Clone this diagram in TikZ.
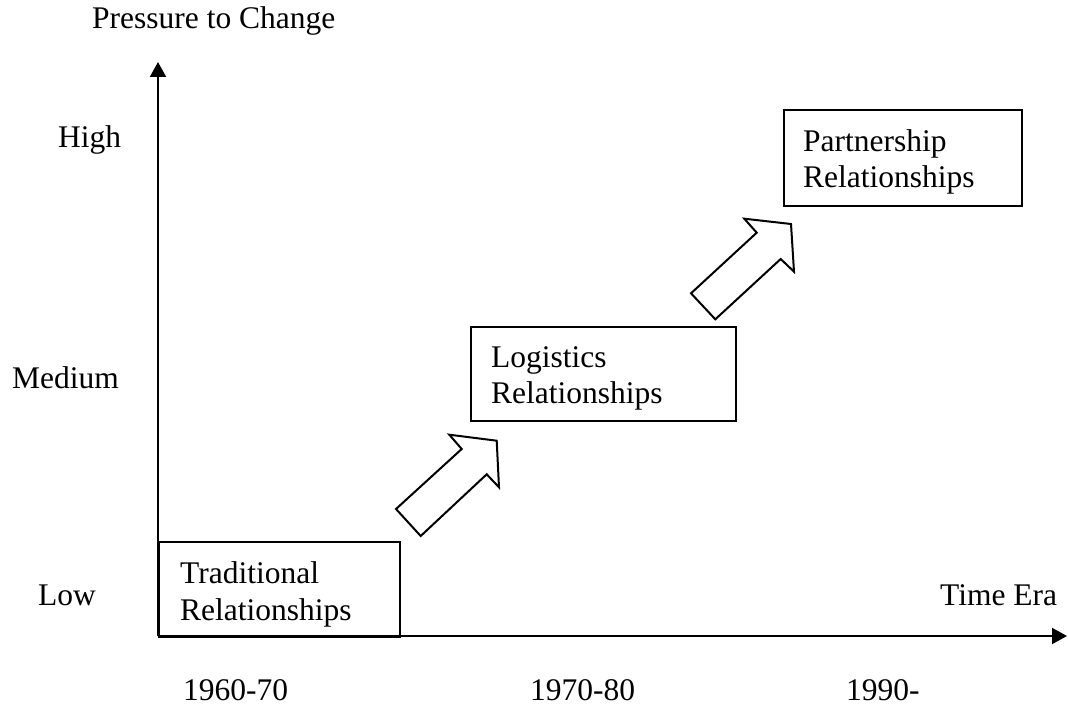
\documentclass[tikz,border=0pt]{standalone}
\usepackage{fontspec}
\setmainfont{Liberation Serif}
\usetikzlibrary{arrows.meta}
\begin{document}
\begin{tikzpicture}[x=1pt,y=-1pt,
  lbl/.style={inner sep=0pt,anchor=base west,font=\fontsize{31.5}{36.5}\selectfont},
  axis/.style={line width=2pt,-{Triangle[length=15pt,width=16pt]}},
  era/.style={draw,line width=2pt,inner sep=0pt,anchor=north west},
  blockarrow/.style={draw,line width=2pt,line join=miter,fill=white}]
\useasboundingbox (0,0) rectangle (1068,706);

% axes
\coordinate (origin) at (158,636);
\coordinate (ytop) at (158,62);
\coordinate (xend) at (1067,636);
\draw[axis] (origin) -- (ytop);
\draw[axis] (origin) -- (xend);

% axis titles and scale labels
\node[lbl] (ytitle) at (92,29) {Pressure to Change};
\node[lbl] (xtitle) at (940,605) {Time Era};
\node[lbl] (high) at (58,148) {High};
\node[lbl] (medium) at (12,388) {Medium};
\node[lbl] (low) at (38,605) {Low};
\node[lbl] (y1) at (183,700) {1960-70};
\node[lbl] (y2) at (530,700) {1970-80};
\node[lbl] (y3) at (846,700) {1990-};

% relationship stages
\node[era,minimum width=241pt,minimum height=95pt] (trad) at (158,541) {};
\node[lbl] (tradA) at (180,583) {Traditional};
\node[lbl] (tradB) at (180,620) {Relationships};

\node[era,minimum width=265pt,minimum height=94pt] (logi) at (470,326) {};
\node[lbl] (logiA) at (491,367) {Logistics};
\node[lbl] (logiB) at (491,403) {Relationships};

\node[era,minimum width=238pt,minimum height=96pt] (part) at (783,109) {};
\node[lbl] (partA) at (803,151) {Partnership};
\node[lbl] (partB) at (803,187) {Relationships};

% block arrows between stages
\draw[blockarrow] (396,509) -- (420.7,536) -- (486.7,474.3) -- (499,487.3)
  -- (496.7,440.7) -- (449.3,434.7) -- (461.7,449) -- cycle;
\draw[blockarrow] (691,293.3) -- (715.3,319.3) -- (780.7,259) -- (794,271.7)
  -- (791,224) -- (744.3,218.7) -- (756.7,232.7) -- cycle;
\end{tikzpicture}
\end{document}
